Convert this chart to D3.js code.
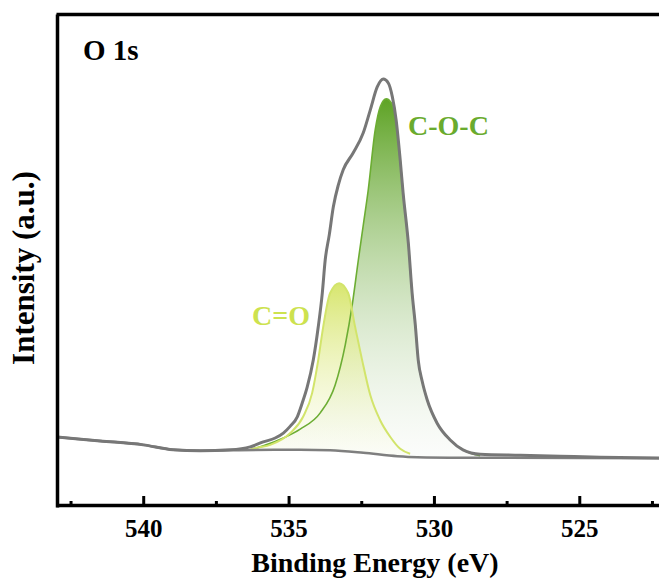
<!DOCTYPE html>
<html>
<head>
<meta charset="utf-8">
<script src="https://cdn.jsdelivr.net/npm/d3@7"></script>
<style>
	body { margin: 0; background: #fff; }
	svg { display: block; }
	text { font-family: "Liberation Serif", "Times New Roman", serif; font-weight: bold; }
</style>
</head>
<body>
<div id="chart"></div>
<script>
// O 1s spectrum (binding energy in eV, intensity in a.u.)
const envelopeEnergy = [542.96, 541.48, 540.0, 538.97, 538.04, 537.01, 536.32, 535.87, 535.46, 535.18,
	534.94, 534.70, 534.53, 534.36, 534.15, 533.98, 533.84, 533.74, 533.60, 533.46, 533.29, 533.12,
	532.78, 532.43, 532.19, 531.95, 531.74, 531.57, 531.43, 531.30, 531.16, 531.06, 530.88, 530.75,
	530.64, 530.54, 530.40, 530.23, 529.89, 529.44, 529.0, 528.41, 527.03, 525.65, 524.28, 522.0];
const envelopeIntensity = [14.2, 13.4, 12.6, 11.6, 11.4, 11.6, 12.2, 13.2, 14.0, 15.0,
	16.4, 18.3, 21.1, 24.3, 29.8, 36.5, 43.4, 50.1, 55.2, 60.9, 65.3, 68.4,
	71.8, 75.9, 80.5, 85.2, 86.8, 86.0, 83.2, 78.5, 70.4, 63.7, 53.5, 43.4,
	36.9, 29.8, 25.4, 21.7, 17.0, 13.6, 11.6, 10.7, 10.5, 10.3, 10.1, 9.9];

const backgroundEnergy = [542.96, 541.48, 540.0, 538.97, 538.04, 537.01, 535.5, 534.60, 533.57, 532.43, 531.26, 530.57, 529.0, 522.0];
const backgroundIntensity = [14.2, 13.4, 12.6, 11.6, 11.4, 11.5, 11.6, 11.6, 11.5, 11.0, 10.3, 10.1, 10.0, 9.9];

// C-O-C component
const cocEnergy = [536.32, 535.87, 535.18, 534.60, 533.91, 533.40, 533.05, 532.81, 532.60, 532.43,
	532.26, 532.02, 531.84, 531.64, 531.47, 531.33, 531.16, 531.06, 530.88, 530.75, 530.64, 530.54,
	530.40, 530.23, 529.89, 529.44, 529.0, 528.41];
const cocIntensity = [11.6, 12.4, 14.0, 15.8, 19.1, 24.7, 32.9, 41.0, 50.1, 57.2,
	64.3, 76.5, 81.3, 82.8, 82.0, 79.1, 70.4, 63.7, 53.5, 43.4, 36.9, 29.8,
	25.4, 21.7, 17.0, 13.6, 11.6, 10.4];

// C=O component
const coEnergy = [536.32, 536.08, 535.63, 534.94, 534.50, 534.19, 533.98, 533.81, 533.57, 533.26,
	532.95, 532.71, 532.47, 532.19, 531.85, 531.50, 531.16, 530.82];
const coIntensity = [11.6, 12.0, 12.6, 15.0, 18.3, 23.1, 29.8, 36.5, 43.4, 45.4,
	43.4, 36.5, 29.8, 22.7, 17.6, 14.2, 11.8, 10.8];

const majorTicks = [540, 535, 530, 525];
const minorTicks = [542.5, 537.5, 532.5, 527.5, 522.5];

const width = 659;
const height = 581;

const svg = d3.select("#chart").append("svg")
	.attr("width", width)
	.attr("height", height);

const x = d3.scaleLinear().domain([543, 522]).range([56, 666.5]);
const y = d3.scaleLinear().domain([0, 100]).range([507, 14]);
const bgAt = d3.scaleLinear().domain(backgroundEnergy).range(backgroundIntensity);

const zip = (es, is) => es.map((e, i) => ({ e: e, v: is[i] }));
const envelope = zip(envelopeEnergy, envelopeIntensity);
const background = zip(backgroundEnergy, backgroundIntensity);
const coc = zip(cocEnergy, cocIntensity);
const co = zip(coEnergy, coIntensity);

const defs = svg.append("defs");
defs.append("clipPath").attr("id", "plot")
	.append("rect").attr("x", 57).attr("y", 14).attr("width", width - 57).attr("height", 491);

const grad = (id, top, bottom, c1, c2, o2) => {
	const g = defs.append("linearGradient").attr("id", id)
		.attr("gradientUnits", "userSpaceOnUse")
		.attr("x1", 0).attr("x2", 0).attr("y1", y(top)).attr("y2", y(bottom));
	g.append("stop").attr("offset", "0%").attr("stop-color", c1);
	g.append("stop").attr("offset", "100%").attr("stop-color", c2).attr("stop-opacity", o2);
};
grad("cocFill", 82.8, 11, "#5ea325", "#eef3ec", 0.25);
grad("coFill", 45.4, 11, "#d3e35e", "#fbfcee", 0.4);

const line = d3.line().x((d) => x(d.e)).y((d) => y(d.v)).curve(d3.curveMonotoneX);
const area = d3.area().x((d) => x(d.e)).y0((d) => y(bgAt(d.e))).y1((d) => y(d.v)).curve(d3.curveMonotoneX);

const plot = svg.append("g").attr("clip-path", "url(#plot)");

plot.append("path").datum(coc).attr("d", area).attr("fill", "url(#cocFill)");
plot.append("path").datum(co).attr("d", area).attr("fill", "url(#coFill)").attr("opacity", 0.9);
plot.append("path").datum(coc).attr("d", line)
	.attr("fill", "none").attr("stroke", "#6cad33").attr("stroke-width", 1.6);
plot.append("path").datum(co).attr("d", line)
	.attr("fill", "none").attr("stroke", "#d2e46b").attr("stroke-width", 2);
plot.append("path").datum(background).attr("d", line)
	.attr("fill", "none").attr("stroke", "#7f7f7f").attr("stroke-width", 2.5);
plot.append("path").datum(envelope).attr("d", line)
	.attr("fill", "none").attr("stroke", "#777").attr("stroke-width", 3);

// axes
const xAxis = svg.append("g").attr("transform", "translate(0,505)")
	.call(d3.axisBottom(x).tickValues(majorTicks).tickSizeInner(-9).tickSizeOuter(0).tickPadding(14).tickFormat(d3.format("d")));
svg.append("g").attr("transform", "translate(0,505)")
	.call(d3.axisBottom(x).tickValues(minorTicks).tickSizeInner(-4).tickSizeOuter(0).tickFormat(""))
	.select(".domain").remove();
svg.selectAll(".tick line").attr("stroke", "#000").attr("stroke-width", 3);
xAxis.select(".domain").attr("stroke", "#000").attr("stroke-width", 3.5);
xAxis.selectAll(".tick text").attr("font-size", 25).attr("fill", "#000")
	.attr("font-family", "Liberation Serif").attr("font-weight", "bold");

svg.append("g").attr("transform", "translate(57,0)")
	.call(d3.axisLeft(y).tickValues([]).tickSizeOuter(0))
	.select(".domain").attr("stroke", "#000").attr("stroke-width", 3.5);
svg.append("g").attr("transform", "translate(0,14)")
	.call(d3.axisTop(x).tickValues([]).tickSizeOuter(0))
	.select(".domain").attr("stroke", "#000").attr("stroke-width", 3.5);

// labels
svg.append("text").attr("x", 375).attr("y", 572).attr("text-anchor", "middle")
	.attr("font-size", 28).text("Binding Energy (eV)");
svg.append("text").attr("transform", "translate(34,268) rotate(-90)").attr("text-anchor", "middle")
	.attr("font-size", 31).text("Intensity (a.u.)");
svg.append("text").attr("x", 83).attr("y", 60).attr("font-size", 29).text("O 1s");
svg.append("text").attr("x", 408).attr("y", 135).attr("font-size", 28).attr("fill", "#6aab2e").text("C-O-C");
svg.append("text").attr("x", 252).attr("y", 325).attr("font-size", 28).attr("fill", "#cde24f").text("C=O");
</script>
</body>
</html>
